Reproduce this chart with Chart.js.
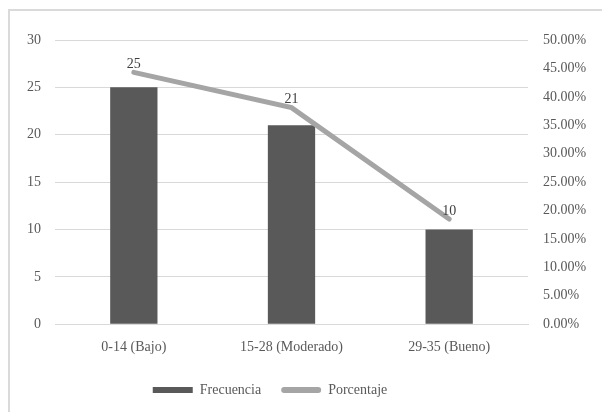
<!DOCTYPE html>
<html>
<head>
<meta charset="utf-8">
<script src="https://cdn.jsdelivr.net/npm/chart.js@4/dist/chart.umd.min.js"></script>
<style>
    html, body { margin: 0; padding: 0; background: #fff; overflow: hidden; }
    canvas { display: block; }
</style>
</head>
<body>
<canvas id="chart" width="602" height="412"></canvas>
<script>
const categories = ['0-14 (Bajo)', '15-28 (Moderado)', '29-35 (Bueno)'];
const frecuencia = [25, 21, 10];
const porcentaje = [0.443, 0.381, 0.185];

const FONT = '"Liberation Serif", "DejaVu Serif", serif';
const TEXT = '#595959';

// chart frame (only the left and top edges fall inside the picture)
const frame = {
    id: 'frame',
    beforeDraw(chart) {
        const ctx = chart.ctx;
        ctx.save();
        ctx.fillStyle = '#dadada';
        ctx.fillRect(8, 9, chart.width - 8, 2);
        ctx.fillRect(8, 9, 2, chart.height - 9);
        ctx.restore();
    }
};

// legend sits a bit left of centre in the original
const legendShift = {
    id: 'legendShift',
    afterLayout(chart) {
        chart.legend.left -= 36;
        chart.legend.right -= 36;
    }
};

// value labels above the line points
const lineLabels = {
    id: 'lineLabels',
    afterDatasetsDraw(chart) {
        const meta = chart.getDatasetMeta(1);
        const ctx = chart.ctx;
        ctx.save();
        ctx.font = '14px ' + FONT;
        ctx.fillStyle = '#404040';
        ctx.textAlign = 'center';
        ctx.textBaseline = 'middle';
        meta.data.forEach((pt, i) => {
            ctx.fillText(String(frecuencia[i]), pt.x, pt.y - 8);
        });
        ctx.restore();
    }
};

const ctx = document.getElementById('chart').getContext('2d');

new Chart(ctx, {
    data: {
        labels: categories,
        datasets: [{
            type: 'bar',
            label: 'Frecuencia',
            data: frecuencia,
            backgroundColor: '#595959',
            barPercentage: 0.3,
            categoryPercentage: 1,
            yAxisID: 'y',
            order: 2
        }, {
            type: 'line',
            label: 'Porcentaje',
            data: porcentaje,
            borderColor: '#a5a5a5',
            backgroundColor: '#a5a5a5',
            borderWidth: 5,
            borderCapStyle: 'round',
            pointRadius: 0,
            tension: 0,
            yAxisID: 'y1',
            order: 1
        }]
    },
    options: {
        responsive: false,
        animation: false,
        layout: { padding: { top: 40, right: 0, left: 10, bottom: 5 } },
        plugins: {
            tooltip: { enabled: false },
            legend: {
                position: 'bottom',
                labels: {
                    font: { family: FONT, size: 14 },
                    color: TEXT,
                    boxWidth: 40,
                    boxHeight: 6,
                    padding: 20,
                    generateLabels(chart) {
                        return chart.data.datasets.map((ds, i) => ({
                            text: ds.label,
                            fillStyle: ds.backgroundColor,
                            strokeStyle: ds.backgroundColor,
                            lineWidth: 0,
                            borderRadius: i === 1 ? 3 : 0,
                            fontColor: TEXT,
                            datasetIndex: i
                        }));
                    }
                }
            }
        },
        scales: {
            x: {
                grid: { display: false },
                border: { color: '#d9d9d9' },
                ticks: { color: TEXT, font: { family: FONT, size: 14 }, padding: 7 }
            },
            y: {
                position: 'left',
                min: 0,
                max: 30,
                afterFit(scale) { scale.width = 45; },
                ticks: { stepSize: 5, color: TEXT, font: { family: FONT, size: 14 }, padding: 14 },
                grid: { color: '#d9d9d9', drawTicks: false },
                border: { display: false }
            },
            y1: {
                position: 'right',
                min: 0,
                max: 0.5,
                afterFit(scale) { scale.width = 74; },
                ticks: {
                    stepSize: 0.05,
                    color: TEXT,
                    font: { family: FONT, size: 14 },
                    padding: 15,
                    callback: v => (v * 100).toFixed(2) + '%'
                },
                grid: { display: false, drawTicks: false },
                border: { display: false }
            }
        }
    },
    plugins: [frame, legendShift, lineLabels]
});
</script>
</body>
</html>
